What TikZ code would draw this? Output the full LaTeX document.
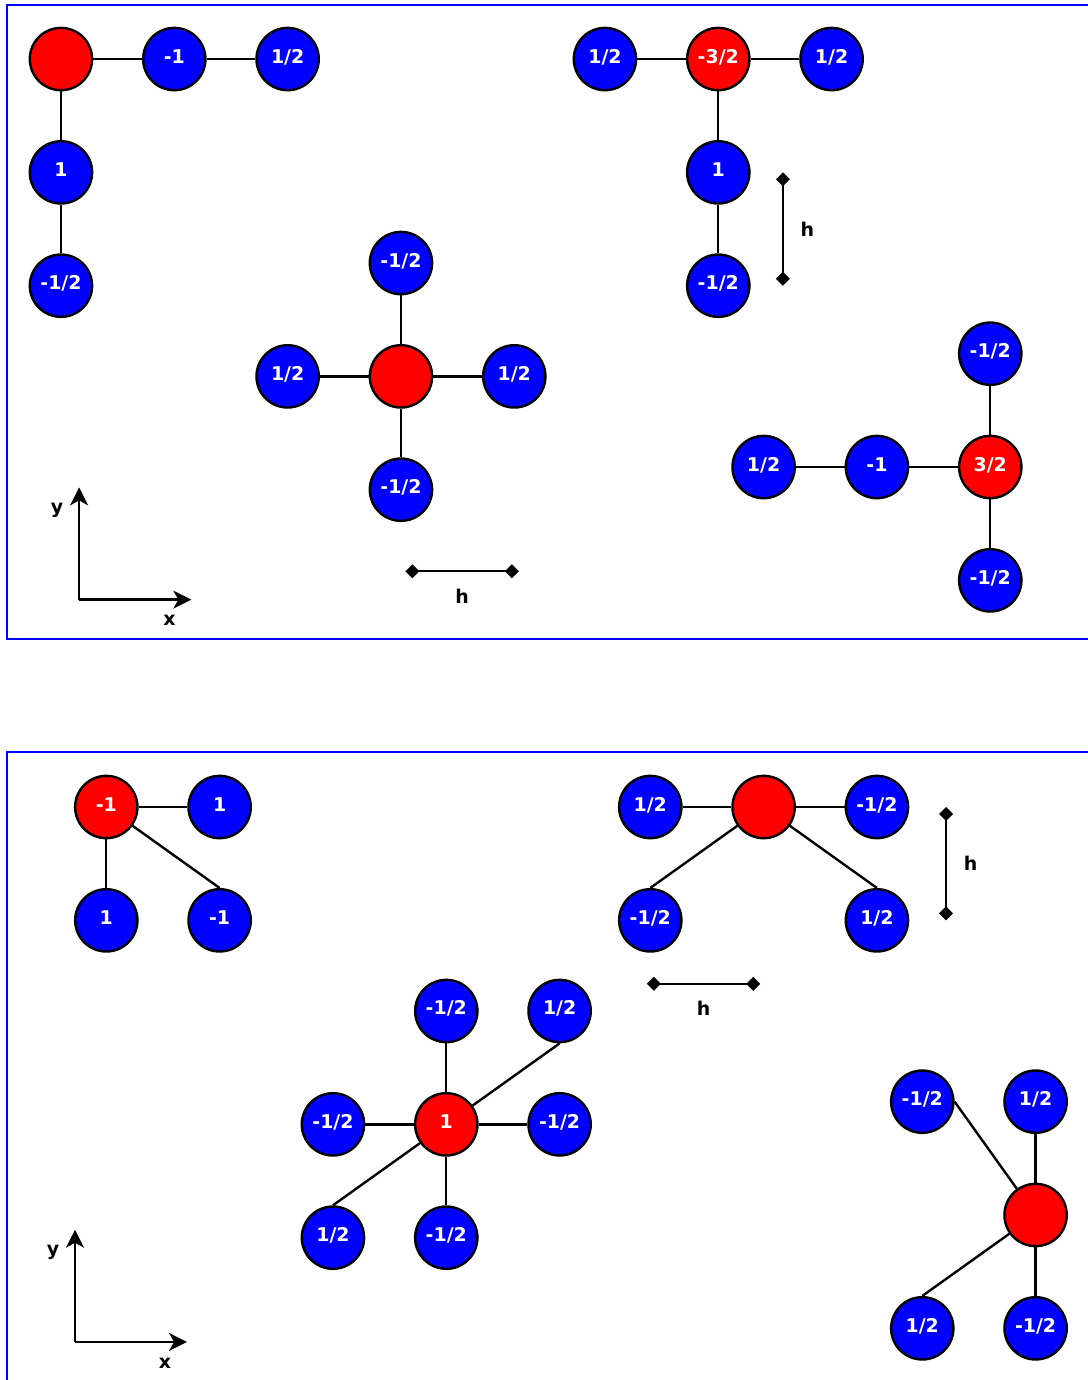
\documentclass[tikz,border=0pt]{standalone}
\usepackage{fontspec}
\setmainfont{DejaVu Sans}
\usetikzlibrary{arrows.meta}

\tikzset{
 cen/.style={circle,draw=black,line width=1.2pt,fill=red,minimum size=1.1cm,inner sep=0pt,text=white,text height=0.75em,text depth=0.35em,font=\fontsize{9.5}{11}\selectfont\bfseries},
 nbr/.style={cen,fill=blue},
 bond/.style={line width=1.2pt},
 frame/.style={draw=blue,line width=1.2pt},
 axis/.style={line width=1.2pt,-{Stealth[length=9pt,width=9pt,inset=2.5pt]}},
 hbar/.style={line width=1.2pt,{Diamond[length=7pt,width=7pt]}-{Diamond[length=7pt,width=7pt]}},
 lbl/.style={font=\fontsize{9.5}{11}\selectfont\bfseries}
}

\begin{document}
\begin{tikzpicture}[x=2cm,y=2cm]
 \useasboundingbox (-0.538,0.521) rectangle (9.062,-11.656); %画像の範囲
 \clip (-0.538,0.521) rectangle (9.062,-11.656);
 \draw[frame] (-0.476,0.476) rectangle (9.6,-5.118); %上の枠
 \draw[frame] (-0.476,-6.115) rectangle (9.6,-12); %下の枠

 %上段 左上
 \node[cen] (a0) at (0,0) {};
 \node[nbr] (a1) at (1,0) {-1};
 \node[nbr] (a2) at (2,0) {1/2};
 \node[nbr] (a3) at (0,-1) {1};
 \node[nbr] (a4) at (0,-2) {-1/2};
 \draw[bond] (a0)--(a1)--(a2);
 \draw[bond] (a0)--(a3)--(a4);

 %上段 右上
 \node[cen] (b0) at (5.8,0) {-3/2};
 \node[nbr] (b1) at (4.8,0) {1/2};
 \node[nbr] (b2) at (6.8,0) {1/2};
 \node[nbr] (b3) at (5.8,-1) {1};
 \node[nbr] (b4) at (5.8,-2) {-1/2};
 \draw[bond] (b1)--(b0)--(b2);
 \draw[bond] (b0)--(b3)--(b4);

 %上段 中央
 \node[cen] (c0) at (3,-2.8) {};
 \node[nbr] (c1) at (3,-1.8) {-1/2};
 \node[nbr] (c2) at (2,-2.8) {1/2};
 \node[nbr] (c3) at (4,-2.8) {1/2};
 \node[nbr] (c4) at (3,-3.8) {-1/2};
 \draw[bond] (c1)--(c0)--(c4);
 \draw[bond] (c2)--(c0)--(c3);

 %上段 右下
 \node[cen] (d0) at (8.2,-3.6) {3/2};
 \node[nbr] (d1) at (8.2,-2.6) {-1/2};
 \node[nbr] (d2) at (8.2,-4.6) {-1/2};
 \node[nbr] (d3) at (7.2,-3.6) {-1};
 \node[nbr] (d4) at (6.2,-3.6) {1/2};
 \draw[bond] (d1)--(d0)--(d2);
 \draw[bond] (d0)--(d3)--(d4);

 %上段 軸とh
 \coordinate (O1) at (0.16,-4.77); %原点
 \coordinate (X1) at (1.15,-4.77);
 \coordinate (Y1) at (0.16,-3.78);
 \draw[axis] (O1)--(Y1) node[lbl,below left=4pt] (y1) {y}; %y軸
 \draw[axis] (O1)--(X1) node[lbl,below left=4pt] (x1) {x}; %x軸
 \coordinate (H1a) at (3.04,-4.52);
 \coordinate (H1b) at (4.04,-4.52);
 \draw[hbar] (H1a)--(H1b) node[lbl,midway,below=5pt] (h1) {h};
 \coordinate (H2a) at (6.37,-1.0);
 \coordinate (H2b) at (6.37,-2.0);
 \draw[hbar] (H2a)--(H2b) node[lbl,midway,right=5pt] (h2) {h};

 %下段 左上
 \node[cen] (e0) at (0.4,-6.6) {-1};
 \node[nbr] (e1) at (1.4,-6.6) {1};
 \node[nbr] (e2) at (0.4,-7.6) {1};
 \node[nbr] (e3) at (1.4,-7.6) {-1};
 \draw[bond] (e0)--(e1);
 \draw[bond] (e0)--(e2);
 \draw[bond] (e0)--(e3.north);

 %下段 右上
 \node[cen] (f0) at (6.2,-6.6) {};
 \node[nbr] (f1) at (5.2,-6.6) {1/2};
 \node[nbr] (f2) at (7.2,-6.6) {-1/2};
 \node[nbr] (f3) at (5.2,-7.6) {-1/2};
 \node[nbr] (f4) at (7.2,-7.6) {1/2};
 \draw[bond] (f1)--(f0)--(f2);
 \draw[bond] (f0)--(f3.north);
 \draw[bond] (f0)--(f4.north);

 %下段 中央
 \node[cen] (g0) at (3.4,-9.4) {1};
 \node[nbr] (g1) at (3.4,-8.4) {-1/2};
 \node[nbr] (g2) at (4.4,-8.4) {1/2};
 \node[nbr] (g3) at (2.4,-9.4) {-1/2};
 \node[nbr] (g4) at (4.4,-9.4) {-1/2};
 \node[nbr] (g5) at (2.4,-10.4) {1/2};
 \node[nbr] (g6) at (3.4,-10.4) {-1/2};
 \draw[bond] (g1)--(g0)--(g6);
 \draw[bond] (g3)--(g0)--(g4);
 \draw[bond] (g0)--(g2.south);
 \draw[bond] (g0)--(g5.north);

 %下段 右下
 \node[cen] (k0) at (8.6,-10.2) {};
 \node[nbr] (k1) at (7.6,-9.2) {-1/2};
 \node[nbr] (k2) at (8.6,-9.2) {1/2};
 \node[nbr] (k3) at (7.6,-11.2) {1/2};
 \node[nbr] (k4) at (8.6,-11.2) {-1/2};
 \draw[bond] (k2)--(k0)--(k4);
 \draw[bond] (k0)--(k1.east);
 \draw[bond] (k0)--(k3.north);

 %下段 軸とh
 \coordinate (O2) at (0.124,-11.32); %原点
 \coordinate (X2) at (1.112,-11.32);
 \coordinate (Y2) at (0.124,-10.33);
 \draw[axis] (O2)--(Y2) node[lbl,below left=4pt] (y2) {y}; %y軸
 \draw[axis] (O2)--(X2) node[lbl,below left=4pt] (x2) {x}; %x軸
 \coordinate (H3a) at (5.17,-8.16);
 \coordinate (H3b) at (6.17,-8.16);
 \draw[hbar] (H3a)--(H3b) node[lbl,midway,below=5pt] (h3) {h};
 \coordinate (H4a) at (7.81,-6.6);
 \coordinate (H4b) at (7.81,-7.6);
 \draw[hbar] (H4a)--(H4b) node[lbl,midway,right=5pt] (h4) {h};
\end{tikzpicture}
\end{document}
